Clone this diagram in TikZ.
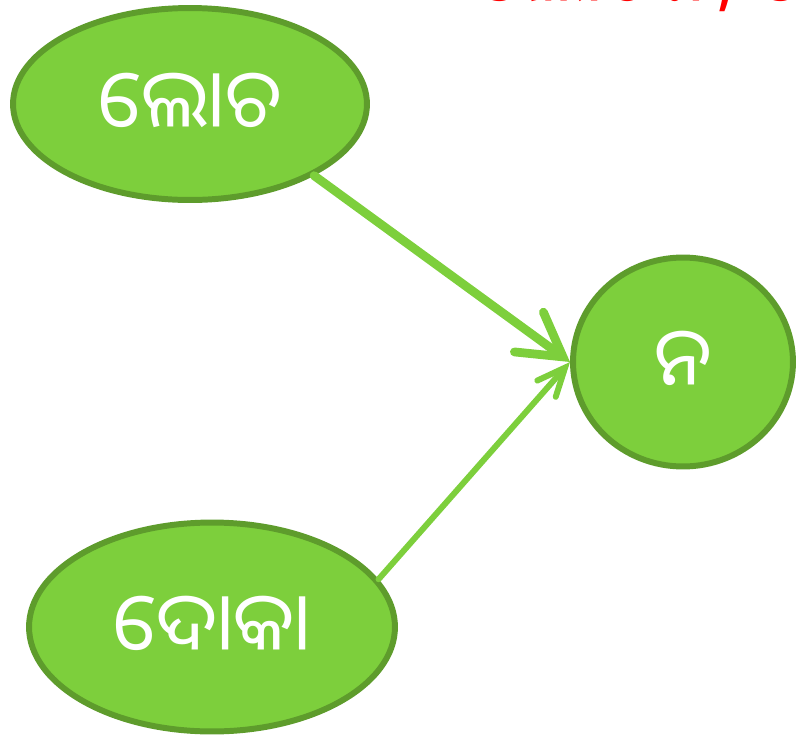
\documentclass[tikz,border=0pt]{standalone}
\usepackage{fontspec}
\newfontfamily\odia[Script=Oriya]{Noto Sans Oriya UI}
\usetikzlibrary{arrows.meta, shapes.geometric}
\definecolor{leafFill}{RGB}{125,207,60}
\definecolor{leafEdge}{RGB}{94,156,44}
\begin{document}
\begin{tikzpicture}[x=0.02cm, y=-0.02cm,
    wordStyle/.style={ellipse, draw=leafEdge, fill=leafFill, line width=3.4pt, inner sep=0pt, text=white, font=\odia\fontsize{46}{54}\selectfont},
    linkStyle/.style={draw=leafFill, line cap=round}]
                    \useasboundingbox (0, 0) rectangle (796, 738);
                    \node[wordStyle, minimum width=7.08cm, minimum height=3.84cm](lochana) at (190, 104) {ଲୋଚ};
                    \node[wordStyle, minimum width=7.32cm, minimum height=4.18cm](doka) at (212, 627) {ଦୋକା};
                    \node[wordStyle, minimum width=4.4cm, minimum height=4.18cm](na) at (683, 362) {ନ};
                    \node[text=red, anchor=base west, font=\odia\fontsize{46}{54}\selectfont](title) at (470, 8) {ଲୋଚନ, ଦୋକାନ};

                    \draw[linkStyle, line width=5pt, -{Straight Barb[length=24pt, width=28pt, line cap=round]}] (lochana.-30) -- (na.west);
                    \draw[linkStyle, line width=3.4pt, -{Straight Barb[length=16pt, width=14pt, line cap=round]}] (doka.16) -- (na.west);
                \end{tikzpicture}
\end{document}
